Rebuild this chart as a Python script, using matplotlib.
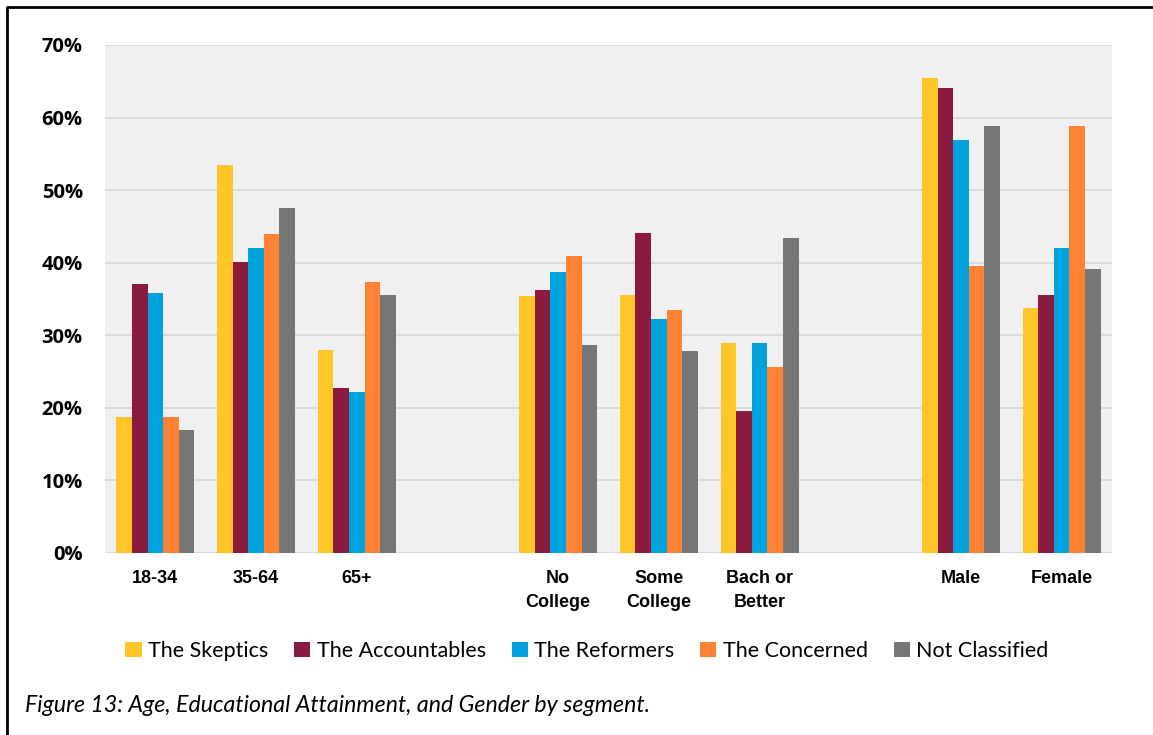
import numpy as np
import matplotlib.pyplot as plt
from matplotlib.lines import Line2D

categories = ['18-34', '35-64', '65+', '', 'No\nCollege', 'Some\nCollege',
              'Bach or\nBetter', '', 'Male', 'Female']
series = ['The Skeptics', 'The Accountables', 'The Reformers',
          'The Concerned', 'Not Classified']
colors = ['#FFC629', '#8A1B3F', '#00A2DE', '#FF8133', '#767676']

skeptics = [18.7, 53.4, 28.0, np.nan, 35.4, 35.6, 28.9, np.nan, 65.5, 33.8]
accountables = [37.1, 40.1, 22.8, np.nan, 36.3, 44.1, 19.6, np.nan, 64.1, 35.5]
reformers = [35.8, 42.0, 22.2, np.nan, 38.7, 32.3, 29.0, np.nan, 56.9, 42.0]
concerned = [18.7, 44.0, 37.4, np.nan, 40.9, 33.5, 25.6, np.nan, 39.6, 58.9]
not_classified = [17.0, 47.5, 35.5, np.nan, 28.7, 27.9, 43.4, np.nan, 58.8, 39.1]
values = [skeptics, accountables, reformers, concerned, not_classified]

W, H = 1153, 735
fig = plt.figure(figsize=(W / 100, H / 100), dpi=100)
ax = fig.add_axes([105 / W, 1 - 553 / H, (1112 - 105) / W, (553 - 45) / H])
ax.set_facecolor('#F0F0F0')

x = np.arange(len(categories))
bw = 0.155
for i, (name, vals, c) in enumerate(zip(series, values, colors)):
    ax.bar(x + (i - 2) * bw, vals, bw, color=c, label=name, zorder=3)

ax.set_xlim(-0.5, len(categories) - 0.5)
ax.set_ylim(0, 70)
ax.set_yticks(np.arange(0, 71, 10))
ax.set_yticklabels([f'{v}%' for v in range(0, 71, 10)],
                   fontfamily='Open Sans', fontweight='bold', fontsize=14.5)
ax.yaxis.grid(True, color='#D9D9D9', linewidth=1.5, zorder=0)
ax.set_xticks(x)
ax.set_xticklabels(categories, fontfamily='Liberation Sans',
                   fontweight='bold', fontsize=13, linespacing=1.55, va='top')
ax.tick_params(length=0, axis='both')
ax.tick_params(axis='x', pad=12)
ax.tick_params(axis='y', pad=16)
for s in ax.spines.values():
    s.set_visible(False)

leg = fig.legend(loc='center', bbox_to_anchor=(587 / W, 1 - 651 / H), ncol=5,
                 frameon=False, handlelength=0.75, handleheight=0.75,
                 handletextpad=0.3, columnspacing=1.2,
                 prop={'family': 'Lato', 'size': 15.5})

fig.text(25 / W, 1 - 705 / H,
         'Figure 13: Age, Educational Attainment, and Gender by segment.',
         fontfamily='Lato', style='italic', fontsize=16.7, va='center')

fig.add_artist(Line2D([6.5 / W, 6.5 / W, 1.0], [0, 1 - 6.5 / H, 1 - 6.5 / H],
                      transform=fig.transFigure, color='black', linewidth=2))

fig.savefig('out.png', dpi=100)
